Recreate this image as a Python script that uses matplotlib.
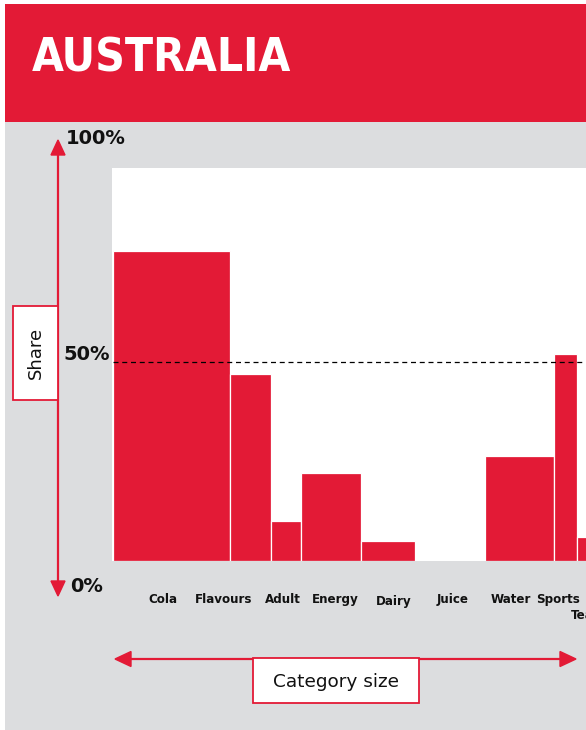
import matplotlib
matplotlib.use("Agg")
import matplotlib.pyplot as plt
from matplotlib.patches import Rectangle, Polygon
from matplotlib.lines import Line2D
from matplotlib import font_manager
import numpy as np

# ---- data ----
categories = ["Cola", "Flavours", "Adult", "Energy", "Dairy", "Juice", "Water", "Sports", "Tea"]
category_size = [19.5, 6.8, 5.0, 10.0, 9.0, 11.7, 11.5, 3.8, 5.0]   # width (share of market)
share = [78, 47, 10, 22, 5, 0, 26.5, 52, 6]                        # height (%)
y_tick_labels = ["0%", "50%", "100%"]
title = "AUSTRALIA"

RED = "#e31a36"
GRAY = "#dcdddf"

W, H = 586, 730
fig = plt.figure(figsize=(W / 100, H / 100), dpi=100)
fig.patch.set_facecolor("white")

def fx(x):
    return x / W

def fy(y):
    return 1 - y / H

def rect(x0, y0, x1, y1, **kw):
    fig.add_artist(Rectangle((fx(x0), fy(y1)), fx(x1) - fx(x0), fy(y0) - fy(y1),
                             transform=fig.transFigure, **kw))

# pick the narrowest bold family available for the title
names = {f.name for f in font_manager.fontManager.ttflist}
cond = [f for f in font_manager.fontManager.ttflist
        if f.name.startswith("DejaVu Sans") and "Condensed" in f.fname and "Bold" in f.fname
        and "Oblique" not in f.fname]
if "Liberation Sans Narrow" in names:
    title_kw = dict(family="Liberation Sans Narrow", fontweight="bold", fontsize=40)
elif cond:
    title_kw = dict(fontproperties=font_manager.FontProperties(fname=cond[0].fname, size=33))
else:
    title_kw = dict(family="DejaVu Sans", fontweight="bold", fontsize=28)

# background panels
rect(5, 4, 586, 730, facecolor=GRAY, edgecolor="none", zorder=0)
rect(5, 4, 586, 122, facecolor=RED, edgecolor="none", zorder=1)
fig.text(fx(32), fy(72), title, color="white", va="baseline", ha="left", **title_kw)

# white plot region
rect(112, 168, 586, 561, facecolor="white", edgecolor="none", zorder=0.5)

# axes: 6 px per unit of category size, extends beyond the right edge (cropped)
left_px, top_px, bot_px = 113, 163, 561
px_per_unit = 6.0
ax_w_px = 100 * px_per_unit
ax = fig.add_axes([fx(left_px), fy(bot_px), ax_w_px / W, (bot_px - top_px) / H])
ax.set_zorder(2)
ax.patch.set_alpha(0)
ax.set_xlim(0, 100)
ax.set_ylim(0, 100)
for s in ax.spines.values():
    s.set_visible(False)
ax.set_xticks([])
ax.set_yticks([])

lefts = np.concatenate([[0], np.cumsum(category_size)[:-1]])
ax.bar(lefts, share, width=category_size, align="edge", color=RED,
       edgecolor="white", linewidth=0.9, zorder=2)

# 50% dashed line
ax.plot([0, 100], [50, 50], color="black", lw=0.9, ls=(0, (4, 3)), zorder=3)

# category labels (offsets in points from bar centre)
label_dx = [-6, -19, -2, 3, 4, 2, -6.5, -5, -7]
label_dy = [-27.5, -27.5, -27.5, -27.5, -29.2, -27.5, -27.5, -27.8, -39]
centres = lefts + np.array(category_size) / 2
for c, x, dx, dy in zip(categories, centres, label_dx, label_dy):
    ax.annotate(c, xy=(x, 0), xycoords="data", xytext=(dx, dy), textcoords="offset points",
                ha="center", va="center", fontsize=8.6, fontweight="bold",
                family="DejaVu Sans", color="#111111", annotation_clip=False)

# y labels
fig.text(fx(70), fy(586), y_tick_labels[0], fontsize=14, fontweight="bold", ha="left", va="center", color="#111111")
fig.text(fx(63), fy(355), y_tick_labels[1], fontsize=14, fontweight="bold", ha="left", va="center", color="#111111")
fig.text(fx(66), fy(138), y_tick_labels[2], fontsize=14, fontweight="bold", ha="left", va="center", color="#111111")

# vertical arrow
fig.add_artist(Line2D([fx(58), fx(58)], [fy(150), fy(586)], color=RED, lw=1.6,
                      transform=fig.transFigure, zorder=3))
fig.add_artist(Polygon([[fx(58), fy(140)], [fx(51), fy(155)], [fx(65), fy(155)]],
                       closed=True, color=RED, transform=fig.transFigure, zorder=3))
fig.add_artist(Polygon([[fx(58), fy(596)], [fx(51), fy(581)], [fx(65), fy(581)]],
                       closed=True, color=RED, transform=fig.transFigure, zorder=3))

# horizontal arrow
fig.add_artist(Line2D([fx(125), fx(566)], [fy(659), fy(659)], color=RED, lw=1.6,
                      transform=fig.transFigure, zorder=3))
fig.add_artist(Polygon([[fx(115), fy(659)], [fx(131), fy(651.5)], [fx(131), fy(666.5)]],
                       closed=True, color=RED, transform=fig.transFigure, zorder=3))
fig.add_artist(Polygon([[fx(576), fy(659)], [fx(560), fy(651.5)], [fx(560), fy(666.5)]],
                       closed=True, color=RED, transform=fig.transFigure, zorder=3))

# label boxes
rect(13, 306, 58, 400, facecolor="white", edgecolor=RED, linewidth=1.3, zorder=4)
fig.text(fx(36), fy(353), "Share", rotation=90, fontsize=13, ha="center", va="center",
         color="#111111", zorder=5)
rect(253, 658, 419, 703, facecolor="white", edgecolor=RED, linewidth=1.3, zorder=4)
fig.text(fx(336), fy(682), "Category size", fontsize=13.3, ha="center", va="center",
         color="#111111", zorder=5)

fig.savefig("out.png", dpi=100, facecolor=fig.get_facecolor())
